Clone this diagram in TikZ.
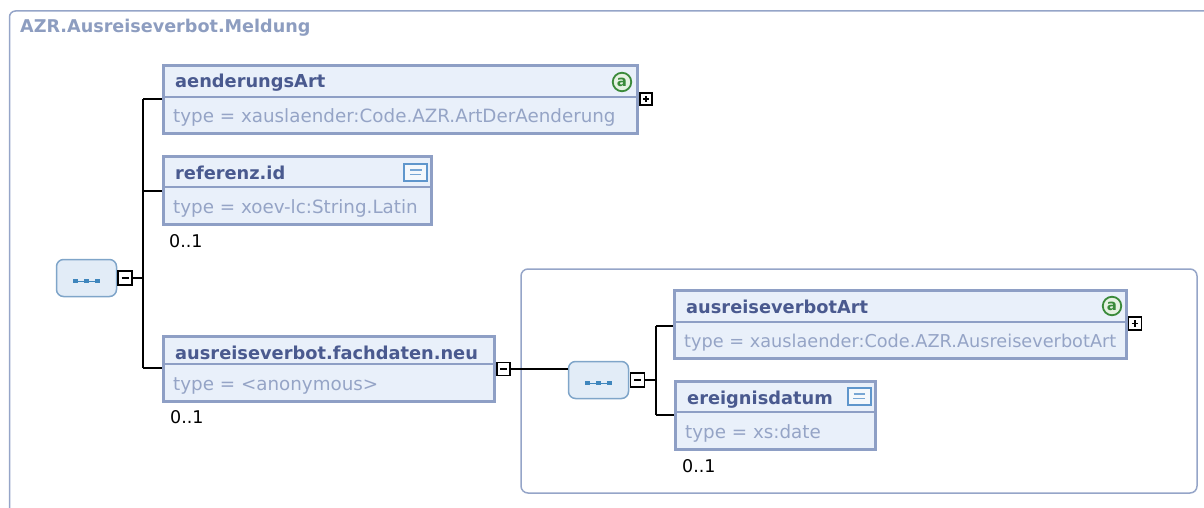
\documentclass[tikz,border=0pt]{standalone}
\usepackage{fontspec}
\setmainfont{DejaVu Sans}
\usetikzlibrary{fit}
\definecolor{boxborder}{HTML}{8E9FC5}
\definecolor{boxfill}{HTML}{E9F0FA}
\definecolor{headc}{HTML}{4A5A8F}
\definecolor{typec}{HTML}{95A4C6}
\definecolor{titlec}{HTML}{8D9DC0}
\definecolor{framec}{HTML}{95A5C8}
\definecolor{seqfill}{HTML}{E2ECF7}
\definecolor{seqborder}{HTML}{7FA5C9}
\definecolor{dotc}{HTML}{3F86BD}
\definecolor{annc}{HTML}{3A8A3A}
\definecolor{annfill}{HTML}{E6F2E2}
\definecolor{docc}{HTML}{5F96CC}
\definecolor{docfill}{HTML}{F4F8FC}
\newcommand\xsdelem[8]{%
  \node[elembox, fit={(#2,#3) (#4,#6)}] (#1) {};
  \draw[divline] (#2,#5) -- (#4,#5);
  \node[headtxt] (#1-t) at (#2+11.5,#3+22.5) {#7};
  \node[typetxt] (#1-y) at (#2+9.5,#6-11) {#8};
}
\newcommand\seqdots[1]{%
  \draw[dotc, line width=0.9] ([shift={(-11,3)}]#1.center) -- ([shift={(11,3)}]#1.center);
  \foreach \dx in {-11,0,11} \fill[dotc] ([shift={(\dx-2.3,0.7)}]#1.center) rectangle ++(4.6,4.6);
}
\begin{document}
\begin{tikzpicture}[x=1pt,y=-1pt,
  elembox/.style={draw=boxborder, fill=boxfill, line width=3, inner sep=0},
  divline/.style={draw=boxborder, line width=1.5},
  headtxt/.style={anchor=base west, inner sep=0, text=headc, font=\fontsize{17.8}{20}\selectfont\bfseries},
  typetxt/.style={anchor=base west, inner sep=0, text=typec, font=\fontsize{18.3}{21}\selectfont},
  multtxt/.style={anchor=base west, inner sep=0, text=black, font=\fontsize{17.5}{20}\selectfont},
  pmbox/.style={draw=black, line width=1.1, fill=white, minimum size=13, inner sep=0},
  minusbox/.style={pmbox, path picture={\draw[line width=1.3] ([xshift=-3.5]path picture bounding box.center) -- ([xshift=3.5]path picture bounding box.center);}},
  plusbox/.style={pmbox, minimum size=12, path picture={\draw[line width=1.3] ([xshift=-3.2]path picture bounding box.center) -- ([xshift=3.2]path picture bounding box.center) ([yshift=-3.2]path picture bounding box.center) -- ([yshift=3.2]path picture bounding box.center);}},
  seqbox/.style={draw=seqborder, fill=seqfill, line width=1.5, rounded corners=7, minimum width=60, minimum height=37, inner sep=0},
  conn/.style={draw=black, line width=1.3},
  frame/.style={draw=framec, line width=1.5},
  annot/.style={circle, draw=annc, fill=annfill, line width=1.8, minimum size=18.5, inner sep=0, text=annc, font=\fontsize{15}{15}\selectfont\bfseries},
  docicon/.style={draw=docc, fill=docfill, line width=2, minimum width=23, minimum height=17, inner sep=0,
    path picture={\draw[docc!85, line width=1.6] ([shift={(-5.5,-2.5)}]path picture bounding box.center) -- ([shift={(6,-2.5)}]path picture bounding box.center) ([shift={(-6,2)}]path picture bounding box.center) -- ([shift={(5.5,2)}]path picture bounding box.center);}}
]
\useasboundingbox (0,0) rectangle (1204,508);
% outer frame
\draw[frame, rounded corners=6] (9.5,508) -- (9.5,11) -- (1204,11);
\node[anchor=base west, inner sep=0, text=titlec, font=\fontsize{17.6}{20}\selectfont\bfseries] (title) at (20,33) {AZR.Ausreiseverbot.Meldung};
% inner frame
\draw[frame, rounded corners=7] (521,269) rectangle (1197,493);

% elements
\xsdelem{aend}{163.5}{65.5}{637.5}{97}{133.5}{aenderungsArt}{type = xauslaender:Code.AZR.ArtDerAenderung}
\xsdelem{ref}{163.5}{156.5}{431.5}{187}{224.5}{referenz.id}{type = xoev-lc:String.Latin}
\xsdelem{fach}{163.5}{336.5}{494.5}{364}{401.5}{ausreiseverbot.fachdaten.neu}{type = <anonymous>}
\xsdelem{art}{674.5}{290.5}{1126.5}{322}{358.5}{ausreiseverbotArt}{\fontsize{17.7}{21}\selectfont type = xauslaender:Code.AZR.AusreiseverbotArt}
\xsdelem{ereig}{675.5}{381.5}{875.5}{412}{449.5}{ereignisdatum}{type = xs:date}

% icons
\node[annot] (aend-a) at (622,82) {a};
\node[annot] (art-a) at (1112,306) {a};
\node[docicon] (ref-d) at (415.5,172.5) {};
\node[docicon] (ereig-d) at (859,396.5) {};

% multiplicities
\node[multtxt] (m1) at (169,247) {0..1};
\node[multtxt] (m2) at (170,423) {0..1};
\node[multtxt] (m3) at (682,472) {0..1};

% sequence 1
\node[seqbox] (seq1) at (86.5,278) {};
\seqdots{seq1}
\node[minusbox, minimum size=14] (seq1m) at (125,278) {};
\coordinate (t1) at (143,278);
\coordinate (t1a) at (143,99);
\coordinate (t1r) at (143,191);
\coordinate (t1f) at (143,368);
\draw[conn] (seq1m.east) -- (t1);
\draw[conn] (t1a) -- (t1f);
\draw[conn] (t1a) -- (aend.west |- t1a);
\draw[conn] (t1r) -- (ref.west |- t1r);
\draw[conn] (t1f) -- (fach.west |- t1f);
\node[plusbox] (aendp) at (646,99) {};

% fachdaten -> sequence 2
\node[minusbox] (fachm) at (503.5,369) {};
\node[seqbox] (seq2) at (598.5,380) {};
\seqdots{seq2}
\draw[conn] (fachm.east) -- (seq2.west |- fachm.east);
\node[minusbox, minimum size=14] (seq2m) at (637.5,380) {};
\coordinate (t2) at (656,380);
\coordinate (t2a) at (656,326);
\coordinate (t2e) at (656,415);
\draw[conn] (seq2m.east) -- (t2);
\draw[conn] (t2a) -- (t2e);
\draw[conn] (t2a) -- (art.west |- t2a);
\draw[conn] (t2e) -- (ereig.west |- t2e);
\node[plusbox, minimum size=13] (artp) at (1135,323.5) {};
\end{tikzpicture}
\end{document}
